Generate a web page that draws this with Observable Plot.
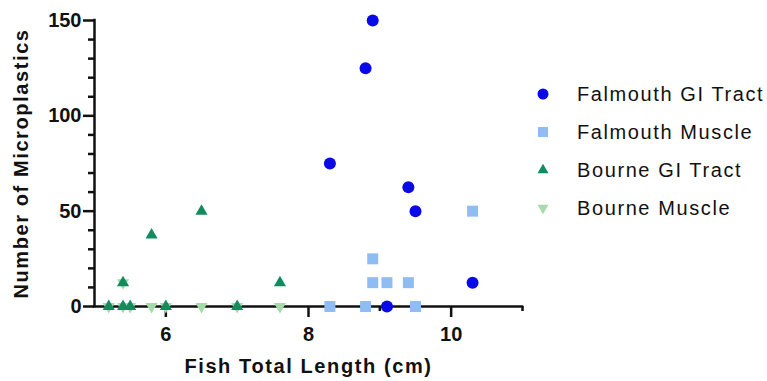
<!DOCTYPE html>
<html><head><meta charset="utf-8">
<script src="https://cdn.jsdelivr.net/npm/d3@7"></script>
<script src="https://cdn.jsdelivr.net/npm/@observablehq/plot@0.6"></script>
<style>
body{margin:0;background:#fff;font-family:"Liberation Sans",Arial,sans-serif;}
#wrap{position:relative;width:767px;height:381px;}
.item{position:absolute;display:flex;align-items:center;white-space:nowrap;font-size:20px;letter-spacing:1.6px;color:#111;line-height:1;}
.item svg{margin-right:26px;}
</style></head><body><div id="wrap"></div>
<script>
// ---- data ----
const seriesNames = ["Falmouth GI Tract", "Falmouth Muscle", "Bourne GI Tract", "Bourne Muscle"];
const falmouthGiLength = [8.3, 8.8, 8.9, 9.1, 9.4, 9.5, 10.3];
const falmouthGiCount  = [75, 125, 150, 0, 62.5, 50, 12.5];
const falmouthMuLength = [8.3, 8.8, 8.9, 8.9, 9.1, 9.4, 9.5, 10.3];
const falmouthMuCount  = [0, 0, 25, 12.5, 12.5, 12.5, 0, 50];
const bourneGiLength = [5.2, 5.4, 5.4, 5.5, 5.8, 6.0, 6.5, 7.0, 7.6];
const bourneGiCount  = [0, 12.5, 0, 0, 37.5, 0, 50, 0, 12.5];
const bourneMuLength = [5.2, 5.4, 5.5, 5.8, 6.0, 6.5, 7.0, 7.6, 5.4];
const bourneMuCount  = [0, 0, 0, 0, 0, 0, 0, 0, 12.5];
const xDomain = [5, 11];
const yDomain = [0, 150];
const xMajorTicks = [6, 8, 10];
const xMinorTicks = [7, 9, 11];
const yMajorTicks = [0, 50, 100, 150];
const yMinorTicks = [10, 20, 30, 40, 60, 70, 80, 90, 110, 120, 130, 140];
const xTitle = "Fish Total Length (cm)";
const yTitle = "Number of Microplastics";

// ---- styles ----
const colors = ["#0a0ae8", "#8fbcf2", "#138b5f", "#a6daa8"];
const s3 = Math.sqrt(3);
const triangleDown = {draw(ctx, size){ const y = Math.sqrt(size/(s3*3)); ctx.moveTo(0, 2*y); ctx.lineTo(-s3*y, -y); ctx.lineTo(s3*y, -y); ctx.closePath(); }};
const symbols = ["circle", "square", "triangle", triangleDown];
const radii = [6, 6.2, 4.5, 4.5];

const rows = (xs, ys) => xs.map((x, i) => ({x, y: ys[i]}));
const sets = [
  rows(falmouthGiLength, falmouthGiCount),
  rows(falmouthMuLength, falmouthMuCount),
  rows(bourneGiLength, bourneGiCount),
  rows(bourneMuLength, bourneMuCount)
];
const drawOrder = [1, 0, 3, 2];
const ax = {strokeWidth: 2.5, label: null};

const chart = Plot.plot({
  width: 767, height: 381,
  marginLeft: 94, marginRight: 245, marginTop: 20, marginBottom: 75,
  x: {domain: xDomain}, y: {domain: yDomain},
  style: {fontFamily: "Liberation Sans, Arial, sans-serif", color: "#111", background: "#fff", overflow: "visible"},
  marks: [
    Plot.axisY({...ax, ticks: yMinorTicks, tickSize: 6, tickFormat: () => ""}),
    Plot.axisY({...ax, ticks: yMajorTicks, tickSize: 11, tickPadding: 2, fontSize: 20, fontWeight: "bold", tickFormat: d3.format("d")}),
    Plot.axisX({...ax, ticks: xMinorTicks, tickSize: 5, tickFormat: () => ""}),
    Plot.axisX({...ax, ticks: xMajorTicks, tickSize: 11, tickPadding: 9, fontSize: 20, fontWeight: "bold", tickFormat: d3.format("d")}),
    Plot.ruleX([xDomain[0]], {y1: yDomain[0], y2: yDomain[1], strokeWidth: 2.5, stroke: "#111", strokeLinecap: "square"}),
    Plot.ruleY([yDomain[0]], {x1: xDomain[0], x2: xDomain[1], strokeWidth: 2.5, stroke: "#111", strokeLinecap: "square"}),
    ...drawOrder.map(k => Plot.dot(sets[k], {x: "x", y: "y", symbol: symbols[k], r: radii[k], fill: colors[k], stroke: "none"})),
    Plot.text([xTitle], {text: d => d, frameAnchor: "bottom", lineAnchor: "middle", textAnchor: "middle", dy: 60, fontSize: 20, fontWeight: "bold", fill: "#111"}),
    Plot.text([yTitle], {text: d => d, frameAnchor: "left", lineAnchor: "middle", textAnchor: "middle", dx: -73, rotate: -90, fontSize: 20, fontWeight: "bold", fill: "#111"})
  ]
});
d3.select(chart).selectAll("text")
  .filter(function() { return this.textContent === xTitle || this.textContent === yTitle; })
  .style("letter-spacing", "1.6px");
const wrap = document.getElementById("wrap");
wrap.appendChild(chart);

// ---- legend ----
const legendTop = [94, 132, 170, 208];
const legendSize = [95, 100, 52, 52];
seriesNames.forEach((name, k) => {
  const item = d3.select(wrap).append("div").attr("class", "item")
    .style("left", "535px").style("top", (legendTop[k] - 12) + "px").style("height", "24px");
  const svg = item.append("svg").attr("width", 16).attr("height", 16);
  const sym = typeof symbols[k] === "string" ? ({circle: d3.symbolCircle, square: d3.symbolSquare, triangle: d3.symbolTriangle})[symbols[k]] : symbols[k];
  svg.append("path").attr("transform", "translate(8,8)").attr("d", d3.symbol(sym, legendSize[k])()).attr("fill", colors[k]);
  item.append("span").text(name);
});
</script></body></html>
